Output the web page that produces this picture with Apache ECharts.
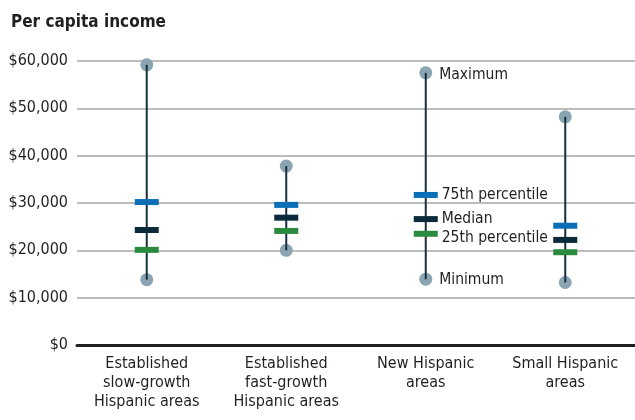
<!DOCTYPE html>
<html>
<head>
<meta charset="utf-8">
<script src="https://cdn.jsdelivr.net/npm/echarts@6/dist/echarts.min.js"></script>
<style>
  html, body { margin: 0; padding: 0; background: #fff; }
  #chart { width: 635px; height: 420px; }
</style>
</head>
<body>
<div id="chart"></div>
<script>
var FONT = "'Liberation Sans Narrow', 'DejaVu Sans Condensed', sans-serif";

// data
var categories = ['Established\nslow-growth\nHispanic areas', 'Established\nfast-growth\nHispanic areas', 'New Hispanic\nareas', 'Small Hispanic\nareas'];
var minimum = [13800, 20000, 13900, 13200];
var pct25 = [20100, 24100, 23500, 19600];
var median = [24300, 26900, 26600, 22200];
var pct75 = [30200, 29600, 31700, 25200];
var maximum = [59200, 37800, 57500, 48200];
var yTicks = [0, 10000, 20000, 30000, 40000, 50000, 60000];

var labelled = 2; // category that carries the key labels

function withLabel(arr, text, dist, offsetY) {
  return arr.map(function (v, i) {
    if (i !== labelled) return v;
    return {
      value: v,
      label: {
        show: true, position: 'right', distance: dist, offset: [0, offsetY || 0],
        formatter: text, fontFamily: FONT, fontSize: 15.5, color: '#231f20'
      }
    };
  });
}

function tickSeries(name, arr, color, text, offsetY) {
  return {
    name: name, type: 'scatter', symbol: 'rect', symbolSize: [24, 6], z: 4,
    itemStyle: { color: color, opacity: 1 },
    data: withLabel(arr, text, 4, offsetY)
  };
}

var chart = echarts.init(document.getElementById('chart'));

chart.setOption({
  animation: false,
  title: {
    text: 'Per capita income', left: 6, top: 9,
    textStyle: { fontFamily: FONT, fontSize: 17, fontWeight: 'bold', color: '#231f20' }
  },
  grid: { left: 77, top: 61, right: -6, height: 284 },
  xAxis: {
    type: 'category', data: categories,
    axisLine: { lineStyle: { color: '#231f20', width: 3 } },
    axisTick: { show: false },
    axisLabel: { interval: 0, margin: 9, fontFamily: FONT, fontSize: 16, lineHeight: 19, color: '#231f20' }
  },
  yAxis: {
    type: 'value', min: 0, max: 60000, interval: 10000,
    axisLine: { show: false }, axisTick: { show: false },
    splitLine: { lineStyle: { color: '#a6a6a6', width: 1.5 } },
    axisLabel: {
      margin: 9, fontFamily: FONT, fontSize: 16, color: '#231f20',
      formatter: function (v) {
        return yTicks.indexOf(v) < 0 ? '' : '$' + v.toLocaleString('en-US');
      }
    }
  },
  series: [
    {
      type: 'scatter', symbol: 'circle', symbolSize: 13, z: 2,
      itemStyle: { color: '#8ba4b2', opacity: 1 },
      data: withLabel(minimum, 'Minimum', 7, 1)
    },
    {
      type: 'scatter', symbol: 'circle', symbolSize: 13, z: 2,
      itemStyle: { color: '#8ba4b2', opacity: 1 },
      data: withLabel(maximum, 'Maximum', 7, 2)
    },
    {
      type: 'custom', z: 3,
      data: categories.map(function (c, i) { return [i, minimum[i], maximum[i]]; }),
      renderItem: function (params, api) {
        var lo = api.coord([api.value(0), api.value(1)]);
        var hi = api.coord([api.value(0), api.value(2)]);
        return {
          type: 'line',
          shape: { x1: lo[0], y1: lo[1], x2: hi[0], y2: hi[1] },
          style: { stroke: '#14303f', lineWidth: 2 }
        };
      }
    },
    tickSeries('75th percentile', pct75, '#0a6fb7', '75th percentile', 0),
    tickSeries('Median', median, '#0b2a3a', 'Median', 0),
    tickSeries('25th percentile', pct25, '#2a8a3e', '25th percentile', 4)
  ]
});
</script>
</body>
</html>
